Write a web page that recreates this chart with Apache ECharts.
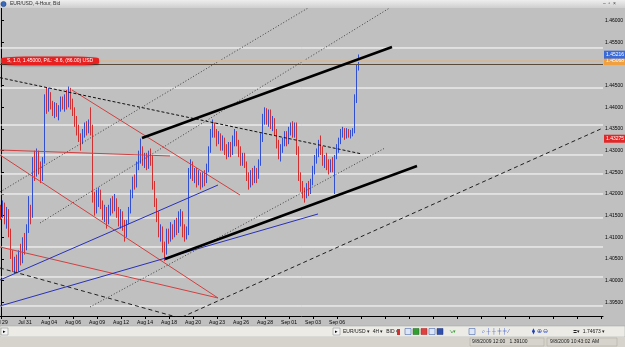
<!DOCTYPE html>
<html><head><meta charset="utf-8">
<script src="https://cdn.jsdelivr.net/npm/echarts@6/dist/echarts.min.js"></script>
<style>html,body{margin:0;padding:0;background:#c0c0c0;overflow:hidden}#c{width:625px;height:347px}</style>
</head><body><div id="c"></div>
<script>
// ---- data: 4-hour bars [open, close, low, high] ----
const bars = [
[1.4165,1.4150,1.4140,1.4175],[1.4150,1.4172,1.4145,1.4185],[1.4172,1.4140,1.4130,1.4180],[1.4140,1.4160,1.4120,1.4170],
[1.4160,1.4110,1.4100,1.4165],[1.4110,1.4060,1.4050,1.4120],[1.4060,1.4030,1.4020,1.4070],[1.4030,1.4045,1.4015,1.4055],
[1.4045,1.4025,1.4018,1.4060],[1.4025,1.4060,1.4020,1.4070],[1.4060,1.4050,1.4035,1.4085],[1.4050,1.4090,1.4040,1.4100],
[1.4090,1.4075,1.4060,1.4110],[1.4075,1.4120,1.4070,1.4130],[1.4120,1.4160,1.4110,1.4195],[1.4160,1.4150,1.4130,1.4175],
[1.4150,1.4270,1.4145,1.4285],[1.4270,1.4250,1.4230,1.4300],[1.4250,1.4290,1.4240,1.4305],[1.4290,1.4260,1.4245,1.4300],
[1.4260,1.4240,1.4225,1.4275],[1.4240,1.4275,1.4230,1.4285],[1.4275,1.4420,1.4270,1.4430],[1.4420,1.4400,1.4385,1.4445],
[1.4400,1.4420,1.4390,1.4445],[1.4420,1.4400,1.4395,1.4435],[1.4400,1.4390,1.4380,1.4415],[1.4390,1.4405,1.4375,1.4412],
[1.4405,1.4385,1.4378,1.4410],[1.4385,1.4395,1.4370,1.4405],[1.4395,1.4415,1.4390,1.4425],[1.4415,1.4400,1.4395,1.4425],
[1.4400,1.4420,1.4390,1.4430],[1.4420,1.4410,1.4395,1.4440],[1.4410,1.4430,1.4400,1.4448],[1.4430,1.4405,1.4395,1.4445],
[1.4405,1.4390,1.4380,1.4420],[1.4390,1.4365,1.4355,1.4400],[1.4365,1.4345,1.4335,1.4380],[1.4345,1.4330,1.4320,1.4360],
[1.4330,1.4320,1.4300,1.4340],[1.4320,1.4340,1.4315,1.4350],[1.4340,1.4355,1.4330,1.4365],[1.4355,1.4345,1.4335,1.4368],
[1.4345,1.4360,1.4340,1.4372],[1.4360,1.4350,1.4335,1.4400],[1.4350,1.4190,1.4180,1.4360],[1.4190,1.4165,1.4150,1.4205],
[1.4165,1.4185,1.4155,1.4210],[1.4185,1.4200,1.4170,1.4215],[1.4200,1.4175,1.4165,1.4210],[1.4175,1.4150,1.4140,1.4185],
[1.4150,1.4165,1.4135,1.4175],[1.4165,1.4145,1.4120,1.4170],[1.4145,1.4160,1.4130,1.4175],[1.4160,1.4180,1.4150,1.4190],
[1.4180,1.4165,1.4155,1.4195],[1.4165,1.4185,1.4160,1.4200],[1.4185,1.4160,1.4145,1.4190],[1.4160,1.4140,1.4125,1.4170],
[1.4140,1.4155,1.4120,1.4165],[1.4155,1.4130,1.4115,1.4160],[1.4130,1.4110,1.4090,1.4140],[1.4110,1.4135,1.4100,1.4140],
[1.4135,1.4160,1.4130,1.4170],[1.4160,1.4200,1.4155,1.4210],[1.4200,1.4230,1.4190,1.4240],[1.4230,1.4220,1.4210,1.4245],
[1.4220,1.4265,1.4215,1.4275],[1.4265,1.4280,1.4255,1.4300],[1.4280,1.4300,1.4270,1.4328],[1.4300,1.4275,1.4265,1.4310],
[1.4275,1.4285,1.4260,1.4295],[1.4285,1.4265,1.4255,1.4295],[1.4265,1.4290,1.4258,1.4300],[1.4290,1.4280,1.4265,1.4305],
[1.4280,1.4220,1.4210,1.4290],[1.4220,1.4180,1.4170,1.4230],[1.4180,1.4150,1.4135,1.4190],[1.4150,1.4110,1.4100,1.4160],
[1.4110,1.4120,1.4090,1.4130],[1.4120,1.4080,1.4065,1.4125],[1.4080,1.4065,1.4045,1.4090],[1.4065,1.4110,1.4060,1.4120],
[1.4110,1.4095,1.4085,1.4120],[1.4095,1.4120,1.4090,1.4135],[1.4120,1.4105,1.4095,1.4130],[1.4105,1.4130,1.4100,1.4140],
[1.4130,1.4115,1.4105,1.4145],[1.4115,1.4140,1.4110,1.4160],[1.4140,1.4150,1.4125,1.4165],[1.4150,1.4120,1.4100,1.4160],
[1.4120,1.4100,1.4090,1.4130],[1.4100,1.4110,1.4095,1.4125],[1.4110,1.4250,1.4105,1.4260],[1.4250,1.4265,1.4235,1.4280],
[1.4265,1.4240,1.4230,1.4275],[1.4240,1.4250,1.4225,1.4260],[1.4250,1.4230,1.4215,1.4260],[1.4230,1.4245,1.4220,1.4255],
[1.4245,1.4225,1.4210,1.4250],[1.4225,1.4240,1.4215,1.4250],[1.4240,1.4230,1.4218,1.4255],[1.4230,1.4260,1.4225,1.4270],
[1.4260,1.4300,1.4250,1.4310],[1.4300,1.4340,1.4295,1.4350],[1.4340,1.4355,1.4330,1.4372],[1.4355,1.4340,1.4330,1.4365],
[1.4340,1.4320,1.4310,1.4350],[1.4320,1.4335,1.4315,1.4345],[1.4335,1.4310,1.4300,1.4340],[1.4310,1.4325,1.4300,1.4335],
[1.4325,1.4300,1.4290,1.4330],[1.4300,1.4290,1.4280,1.4315],[1.4290,1.4310,1.4285,1.4320],[1.4310,1.4295,1.4285,1.4320],
[1.4295,1.4320,1.4290,1.4335],[1.4320,1.4340,1.4310,1.4350],[1.4340,1.4320,1.4310,1.4345],[1.4320,1.4300,1.4285,1.4325],
[1.4300,1.4275,1.4265,1.4310],[1.4275,1.4285,1.4265,1.4295],[1.4285,1.4270,1.4260,1.4295],[1.4270,1.4240,1.4230,1.4275],
[1.4240,1.4225,1.4210,1.4250],[1.4225,1.4245,1.4215,1.4255],[1.4245,1.4230,1.4220,1.4260],[1.4230,1.4255,1.4225,1.4265],
[1.4255,1.4240,1.4225,1.4260],[1.4240,1.4270,1.4235,1.4280],[1.4270,1.4330,1.4265,1.4340],[1.4330,1.4370,1.4320,1.4385],
[1.4370,1.4390,1.4360,1.4400],[1.4390,1.4370,1.4360,1.4398],[1.4370,1.4385,1.4355,1.4395],[1.4385,1.4360,1.4350,1.4395],
[1.4360,1.4370,1.4345,1.4380],[1.4370,1.4345,1.4335,1.4375],[1.4345,1.4320,1.4305,1.4350],[1.4320,1.4290,1.4280,1.4325],
[1.4290,1.4305,1.4275,1.4315],[1.4305,1.4320,1.4295,1.4330],[1.4320,1.4335,1.4310,1.4345],[1.4335,1.4320,1.4310,1.4345],
[1.4320,1.4345,1.4315,1.4355],[1.4345,1.4355,1.4335,1.4365],[1.4355,1.4340,1.4330,1.4368],[1.4340,1.4355,1.4330,1.4365],
[1.4355,1.4300,1.4290,1.4365],[1.4300,1.4240,1.4230,1.4310],[1.4240,1.4215,1.4205,1.4250],[1.4215,1.4205,1.4190,1.4230],
[1.4205,1.4195,1.4180,1.4215],[1.4195,1.4215,1.4190,1.4225],[1.4215,1.4205,1.4195,1.4230],[1.4205,1.4225,1.4200,1.4235],
[1.4225,1.4255,1.4220,1.4265],[1.4255,1.4280,1.4245,1.4290],[1.4280,1.4295,1.4270,1.4305],[1.4295,1.4315,1.4285,1.4325],
[1.4315,1.4300,1.4290,1.4335],[1.4300,1.4275,1.4265,1.4310],[1.4275,1.4285,1.4260,1.4290],[1.4285,1.4265,1.4255,1.4295],
[1.4265,1.4255,1.4245,1.4280],[1.4255,1.4270,1.4250,1.4280],[1.4270,1.4260,1.4250,1.4285],[1.4260,1.4285,1.4200,1.4290],
[1.4285,1.4305,1.4280,1.4315],[1.4305,1.4320,1.4295,1.4330],[1.4320,1.4340,1.4315,1.4350],[1.4340,1.4345,1.4330,1.4355],
[1.4345,1.4335,1.4325,1.4352],[1.4335,1.4345,1.4328,1.4352],[1.4345,1.4335,1.4330,1.4350],[1.4335,1.4340,1.4328,1.4348],
[1.4340,1.4345,1.4333,1.4352],[1.4345,1.4420,1.4340,1.4430],[1.4420,1.4490,1.4410,1.4500],[1.4490,1.4507,1.4485,1.4522]
];
// time axis labels (bar index of each label)
const dateLabels = ["Jul 29","Jul 31","Aug 04","Aug 06","Aug 09","Aug 12","Aug 14","Aug 18","Aug 20","Aug 23","Aug 26","Aug 28","Sep 01","Sep 03","Sep 06"];
const dateIdx = [0,12,24,36,48,60,72,84,96,108,120,132,144,156,168];
const xTickIdx = [0,12,24,36,48,60,72,84,96,108,120,132,144,156,168,180,192,204,216,228,240,252,264,276,288,300];
// price axis
const priceTicks = [1.395,1.400,1.405,1.410,1.415,1.420,1.425,1.430,1.435,1.440,1.445,1.450,1.455,1.460];
const priceLabels = [1.395,1.400,1.405,1.410,1.415,1.420,1.425,1.430,1.435,1.440,1.445,1.455,1.460];
// horizontal line objects (white)
const hLevels = [1.45370,1.44446,1.43592,1.42900,1.42461,1.42000,1.41446,1.40776,1.40084,1.39414];
// order / price tags
const orderPrice = 1.45000;
const orderText = "S, 1.0, 1.45000, P/L: -8.6, (86.00) USD";
const bidPrice = 1.45068;
const highTag = 1.45216;
const redTag = 1.43275;
// trend lines: [barIndex, price] points
const thickLines = [[[70.5,1.43292],[195.5,1.45393]],[[82,1.40499],[208,1.42646]]];
const shortDashLines = [[[-0.5,1.44684],[180.5,1.42923]]];
const longDashLines = [[[-0.5,1.40291],[89.5,1.39137],[301,1.43523]]];
const dotLines = [[[-0.5,1.42046],[153.5,1.46293]],[[19.5,1.41330],[195.5,1.46328]],[[44.5,1.39391],[192,1.43061]]];
const redLines = [[[-0.5,1.43015],[84.5,1.42877]],[[35.5,1.44400],[119.5,1.41976]],[[-0.5,1.42900],[108.5,1.39599]],[[-0.5,1.40776],[108.5,1.39599]]];
const blueLines = [[[-0.5,1.40014],[108.5,1.42207]],[[-0.5,1.39414],[158.5,1.41538]]];

const FONT = 'Liberation Sans';
const X0 = -0.5, X1 = 301;
const chart = echarts.init(document.getElementById('c'), null, {renderer:'canvas'});

function lineSeries(group, style, z){
  return group.map(pts => ({type:'line', data:pts, symbol:'none', silent:true, clip:true, z:z, animation:false, lineStyle:style}));
}
function tagLabel(value, bg){
  return {show:true, position:'end', distance:1, formatter:value.toFixed(5),
    backgroundColor:bg, color:'#fff', fontSize:5, fontFamily:FONT, padding:[1,2,1,2], lineHeight:6};
}

const labelMap = {};
dateIdx.forEach((d,i)=>labelMap[d]=dateLabels[i]);

const series = [
  ...hLevels.map(v => ({type:'line', data:[[X0,v],[X1,v]], symbol:'none', silent:true, z:1, animation:false,
      lineStyle:{color:'#ffffff', width:1}})),
  {type:'candlestick', z:3, barWidth:1, animation:false, silent:true,
    data: bars.map((b,i)=>[i,b[0],b[1],b[2],b[3]]),
    itemStyle:{color:'#3050d0', color0:'#d03030', borderColor:'#3050d0', borderColor0:'#d03030', borderWidth:1},
    markLine:{symbol:['none','none'], silent:true, animation:false, precision:5,
      data:[
        {yAxis:orderPrice, lineStyle:{color:'#5a4a3a', width:1, type:'solid'}, label:{show:false}},
        {yAxis:bidPrice, lineStyle:{color:'#d2b89c', width:2, type:'solid'}, label:tagLabel(bidPrice,'#f0a040')},
        {yAxis:highTag, lineStyle:{color:'rgba(0,0,0,0)', width:0}, label:tagLabel(highTag,'#3a6ad8')},
        {yAxis:redTag, lineStyle:{color:'rgba(0,0,0,0)', width:0}, label:tagLabel(redTag,'#e02828')}
      ]},
    markPoint:{silent:true, animation:false, data:[{coord:[24.5, orderPrice], symbol:'roundRect', symbolSize:[98,8.5], symbolOffset:[0,-3.2],
      itemStyle:{color:'#e82020', shadowColor:'rgba(0,0,0,0.4)', shadowBlur:2, shadowOffsetY:1},
      label:{show:true, position:'inside', formatter:orderText, color:'#fff', fontSize:5, fontFamily:FONT}}]}
  },
  ...lineSeries(redLines, {color:'#d04040', width:1}, 4),
  ...lineSeries(blueLines, {color:'#2830b8', width:1}, 4),
  ...lineSeries(dotLines, {color:'#404040', width:1, type:[1,2]}, 4),
  ...lineSeries(shortDashLines, {color:'#101010', width:1, type:[3,2]}, 4),
  ...lineSeries(longDashLines, {color:'#202020', width:1, type:[4,3]}, 4),
  ...lineSeries(thickLines, {color:'#000000', width:2.5}, 5)
];

chart.setOption({
  animation:false,
  backgroundColor:'#c0c0c0',
  grid:{left:0, right:22, top:8, bottom:31, containLabel:false, outerBoundsMode:'none'},
  xAxis:{type:'value', min:X0, max:X1, position:'bottom',
    axisLine:{show:true, lineStyle:{color:'#000', width:1}},
    axisTick:{show:true, customValues:xTickIdx, length:3, lineStyle:{color:'#000'}},
    axisLabel:{show:true, customValues:dateIdx, formatter:v=>labelMap[Math.round(v)]||'', fontSize:5, fontFamily:FONT, color:'#000', margin:4},
    splitLine:{show:false}, minorSplitLine:{show:false}},
  yAxis:{type:'value', position:'right', min:1.39183, max:1.46293, scale:true,
    axisLine:{show:true, lineStyle:{color:'#000', width:1}},
    axisTick:{show:true, customValues:priceTicks, length:3, lineStyle:{color:'#000'}},
    axisLabel:{show:true, customValues:priceLabels, formatter:v=>v.toFixed(5), fontSize:5, fontFamily:FONT, color:'#000', margin:2},
    splitLine:{show:false}, minorSplitLine:{show:false}},
  series: series,
  graphic:[
    {type:'rect', shape:{x:0,y:0,width:625,height:8}, style:{fill:new echarts.graphic.LinearGradient(0,0,0,1,[{offset:0,color:'#eeeeee'},{offset:1,color:'#cfcfcf'}])}, z:100},
    {type:'circle', shape:{cx:3.5,cy:4,r:2.6}, style:{fill:'#3a6ab8', stroke:'#1a3a78', lineWidth:0.5}, z:101},
    {type:'text', x:10, y:1.5, style:{text:'EUR/USD, 4-Hour, Bid', fontSize:5, fontFamily:FONT, fill:'#303030'}, z:101},
    {type:'text', x:603, y:1, style:{text:'–  ▫  ×', fontSize:5, fontFamily:FONT, fill:'#404040'}, z:101},
    {type:'rect', shape:{x:0,y:326,width:625,height:11}, style:{fill:'#ecebe6', stroke:'#a0a0a0', lineWidth:0.5}, z:100},
    {type:'rect', shape:{x:1,y:328,width:7,height:7}, style:{fill:'#f4f4f4', stroke:'#808080', lineWidth:0.5}, z:101},
    {type:'text', x:3, y:329, style:{text:'▸', fontSize:5, fill:'#000'}, z:102},
    {type:'rect', shape:{x:333,y:328,width:7,height:7}, style:{fill:'#f4f4f4', stroke:'#808080', lineWidth:0.5}, z:101},
    {type:'text', x:335, y:329, style:{text:'▸', fontSize:5, fill:'#000'}, z:102},
    {type:'text', x:343, y:329.5, style:{text:'EUR/USD ▾  4H ▾  BID ▾', fontSize:5, fontFamily:FONT, fill:'#202020'}, z:101},
    {type:'rect', shape:{x:397,y:329,width:3,height:6}, style:{fill:'#d03030'}, z:101},
    {type:'rect', shape:{x:405,y:328.5,width:6,height:6}, style:{fill:'#dde6f6', stroke:'#3050a0', lineWidth:0.5}, z:101},
    {type:'rect', shape:{x:413,y:328.5,width:6,height:6}, style:{fill:'#30a030', stroke:'#206020', lineWidth:0.5}, z:101},
    {type:'rect', shape:{x:421,y:328.5,width:6,height:6}, style:{fill:'#e04040', stroke:'#a02020', lineWidth:0.5}, z:101},
    {type:'rect', shape:{x:429,y:328.5,width:6,height:6}, style:{fill:'#dde6f6', stroke:'#3050a0', lineWidth:0.5}, z:101},
    {type:'rect', shape:{x:437,y:328.5,width:6,height:6}, style:{fill:'#3050b0', stroke:'#203070', lineWidth:0.5}, z:101},
    {type:'rect', shape:{x:469,y:328.5,width:6,height:6}, style:{fill:'#dde6f6', stroke:'#3050a0', lineWidth:0.5}, z:101},
    {type:'text', x:449, y:329.5, style:{text:'↘▾', fontSize:5, fill:'#30a030'}, z:101},
    {type:'text', x:482, y:328.5, style:{text:'⌕ ┼ ┼ ╪ ╪ ⁄', fontSize:5.5, fill:'#3050c0'}, z:101},
    {type:'text', x:532, y:328.5, style:{text:'⧫ ⊕ ⊖', fontSize:5.5, fill:'#2040c0'}, z:101},
    {type:'text', x:573, y:329.5, style:{text:'≒▾  1.74673 ▾', fontSize:5, fontFamily:FONT, fill:'#202020'}, z:101},
    {type:'rect', shape:{x:0,y:337,width:625,height:10}, style:{fill:'#d6d3cc'}, z:100},
    {type:'rect', shape:{x:470,y:338,width:74,height:8}, style:{fill:'none', stroke:'#a8a49c', lineWidth:0.5}, z:101},
    {type:'rect', shape:{x:547,y:338,width:70,height:8}, style:{fill:'none', stroke:'#a8a49c', lineWidth:0.5}, z:101},
    {type:'text', x:472, y:339.5, style:{text:'9/8/2009 12:00   1.39100', fontSize:5, fontFamily:FONT, fill:'#202020'}, z:101},
    {type:'text', x:550, y:339.5, style:{text:'9/8/2009 10:43:02 AM', fontSize:5, fontFamily:FONT, fill:'#202020'}, z:101}
  ]
});
</script></body></html>
